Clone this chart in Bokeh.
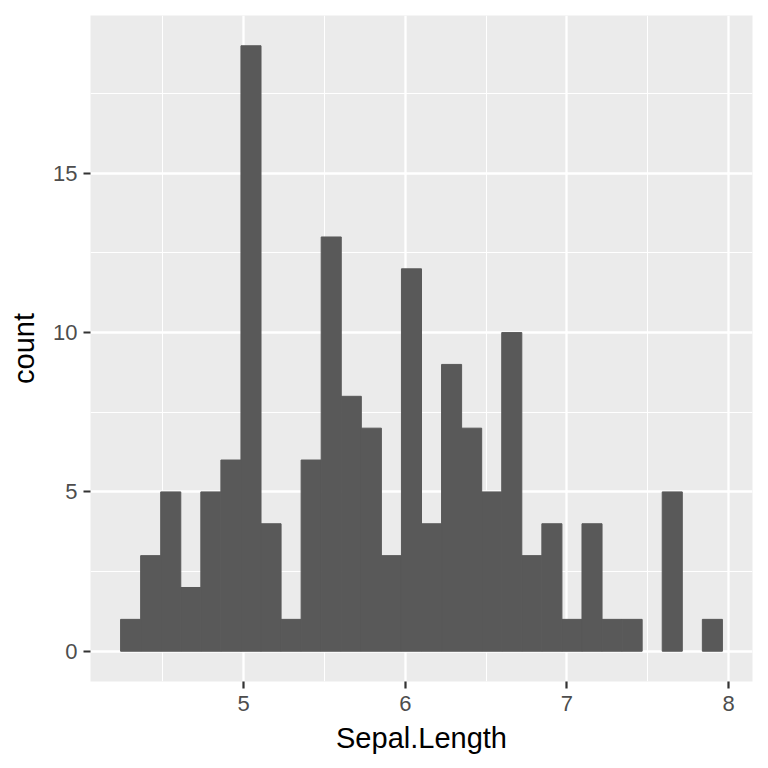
from bokeh.plotting import figure
from bokeh.models import FixedTicker, Range1d, ColumnDataSource
from bokeh.embed import file_html
from bokeh.resources import INLINE

# Histogram of Sepal.Length, 30 bins (ggplot2 style)
data_min = 4.3
data_max = 7.9
n_bins = 30
counts = [1, 3, 5, 2, 5, 6, 19, 4, 1, 6, 13, 8, 7, 3, 12,
          4, 9, 7, 5, 10, 3, 4, 1, 4, 1, 1, 0, 5, 0, 1]
x_ticks = [5, 6, 7, 8]
x_minor = [4.5, 5.5, 6.5, 7.5]
y_ticks = [0, 5, 10, 15]
y_minor = [2.5, 7.5, 12.5, 17.5]

bw = (data_max - data_min) / (n_bins - 1)
centers = [data_min + i * bw for i in range(n_bins)]
lefts = [c - bw / 2 for c in centers]
rights = [c + bw / 2 for c in centers]
edge_alpha = [1.0 if c > 0 else 0.0 for c in counts]

lo, hi = lefts[0], rights[-1]
pad = (hi - lo) * 0.05
ymax = max(counts)
ypad = ymax * 0.05

p = figure(output_backend="svg", toolbar_location=None,
           frame_width=662, frame_height=666,
           min_border_left=90, min_border_right=15,
           min_border_top=15, min_border_bottom=86,
           x_range=Range1d(lo - pad, hi + pad),
           y_range=Range1d(-ypad, ymax + ypad))

p.background_fill_color = "#EBEBEB"
p.border_fill_color = "white"
p.outline_line_color = None

src = ColumnDataSource(dict(left=lefts, right=rights, top=counts,
                            la=edge_alpha))
p.quad(left="left", right="right", bottom=0, top="top", source=src,
       fill_color="#595959", line_color="#595959", line_width=1.0,
       line_alpha="la")

p.xaxis.ticker = FixedTicker(ticks=x_ticks, minor_ticks=x_minor)
p.yaxis.ticker = FixedTicker(ticks=y_ticks, minor_ticks=y_minor)

for g in (p.xgrid, p.ygrid):
    g.grid_line_color = "white"
    g.grid_line_width = 2.3
    g.minor_grid_line_color = "white"
    g.minor_grid_line_width = 1.1

for ax in (p.xaxis, p.yaxis):
    ax.axis_line_color = None
    ax.major_tick_line_color = "#333333"
    ax.major_tick_line_width = 2.2
    ax.major_tick_out = 7
    ax.major_tick_in = 0
    ax.minor_tick_line_color = None
    ax.major_label_text_font = "Liberation Sans"
    ax.major_label_text_font_size = "22px"
    ax.major_label_text_color = "#4D4D4D"
    ax.axis_label_text_font = "Liberation Sans"
    ax.axis_label_text_font_size = "29px"
    ax.axis_label_text_font_style = "normal"
    ax.axis_label_text_color = "black"

p.xaxis.axis_label = "Sepal.Length"
p.yaxis.axis_label = "count"
p.xaxis.major_label_standoff = 7
p.yaxis.major_label_standoff = 6
p.xaxis.axis_label_standoff = 8
p.yaxis.axis_label_standoff = 10

open("out.html", "w").write(file_html(p, INLINE))
